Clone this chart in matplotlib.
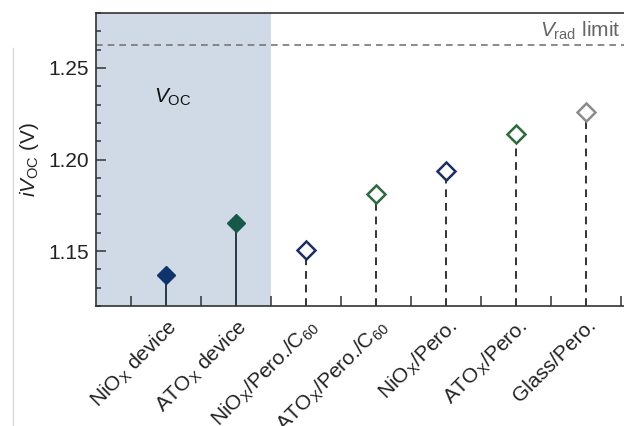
import matplotlib
matplotlib.use("Agg")
import matplotlib.pyplot as plt
import matplotlib.transforms as mtransforms
from matplotlib.lines import Line2D
from matplotlib.ticker import MultipleLocator

plt.rcParams["font.family"] = ["Liberation Sans", "DejaVu Sans"]
plt.rcParams["mathtext.fontset"] = "custom"
plt.rcParams["mathtext.rm"] = "Liberation Sans"
plt.rcParams["mathtext.it"] = "Liberation Sans:italic"

# Data
categories = [
    r"NiO$_\mathrm{X}$ device",
    r"ATO$_\mathrm{X}$ device",
    r"NiO$_\mathrm{X}$/Pero./C$_{60}$",
    r"ATO$_\mathrm{X}$/Pero./C$_{60}$",
    r"NiO$_\mathrm{X}$/Pero.",
    r"ATO$_\mathrm{X}$/Pero.",
    "Glass/Pero.",
]
ivoc = [1.137, 1.1655, 1.1505, 1.181, 1.1935, 1.2137, 1.226]
filled = [True, True, False, False, False, False, False]
colors = ["#0f3469", "#17584a", "#1b2f63", "#2d6a3c", "#1b2f63", "#2d6a3c", "#8c8c8c"]
v_rad = 1.2623
yticks = [1.15, 1.20, 1.25]

W, H = 624, 426
fig = plt.figure(figsize=(W / 100, H / 100), dpi=100)
left, right, top, bottom = 96, 656, 13, 306
ax = fig.add_axes([left / W, 1 - bottom / H, (right - left) / W, (bottom - top) / H])

ax.set_xlim(-1, 7)
ax.set_ylim(1.12, 1.28)

# shaded region behind the complete devices
ax.axvspan(-1, 1.5, color="#cfdae6", zorder=0, lw=0)

# radiative limit
ax.axhline(v_rad, color="#777777", lw=1.2, ls=(0, (4, 3)), zorder=1)
edge_tr = mtransforms.blended_transform_factory(fig.transFigure, ax.transData)
ax.text(0.995, v_rad + 0.002, r"$V_\mathrm{rad}$ limit", transform=edge_tr,
        ha="right", va="bottom", fontsize=15, color="#666666")

ax.text(0.1, 1.2338, r"$V_\mathrm{OC}$", fontsize=15, ha="center", va="center", color="#111111")

for i, (v, f, c) in enumerate(zip(ivoc, filled, colors)):
    if f:
        ax.plot([i, i], [1.12, v], color="#27384a", lw=1.4, zorder=2, solid_capstyle="butt")
        ax.plot(i, v, marker="D", ms=9.5, color=c, mec=c, zorder=3)
    else:
        ax.plot([i, i], [1.12, v], color="#333333", lw=1.4, ls=(0, (4, 3)), zorder=2)
        ax.plot(i, v, marker="D", ms=9, mfc="white", mec=c, mew=1.8, zorder=3)

# axes styling
ax.set_xticks([i + 0.5 for i in range(-1, 7)])
ax.set_xticklabels([])
ax.yaxis.set_minor_locator(MultipleLocator(0.01))
ax.set_yticks(yticks)
ax.set_yticklabels([f"{t:.2f}" for t in yticks], fontsize=15, color="#222222")
ax.tick_params(axis="both", which="major", direction="in", length=7, width=1.1, color="#333333", pad=5)
ax.tick_params(axis="y", which="minor", direction="in", length=3.8, width=1.1, color="#333333")
for s in ax.spines.values():
    s.set_color("#333333")
    s.set_linewidth(1.2)

# category labels
for i, lab in enumerate(categories):
    ax.annotate(lab, xy=(i, 1.12), xycoords="data", xytext=(0.5, -7), textcoords="offset points",
                rotation=45, ha="right", va="top", rotation_mode="anchor", fontsize=15,
                color="#222222", annotation_clip=False)

ax.set_ylabel(r"$i$$V_\mathrm{OC}$ (V)", fontsize=15, labelpad=5, color="#222222")

fig.add_artist(Line2D([13 / W, 13 / W], [0, 1 - 48 / H], transform=fig.transFigure,
                      color="#dadada", lw=1))

fig.savefig("out.png", dpi=100)
